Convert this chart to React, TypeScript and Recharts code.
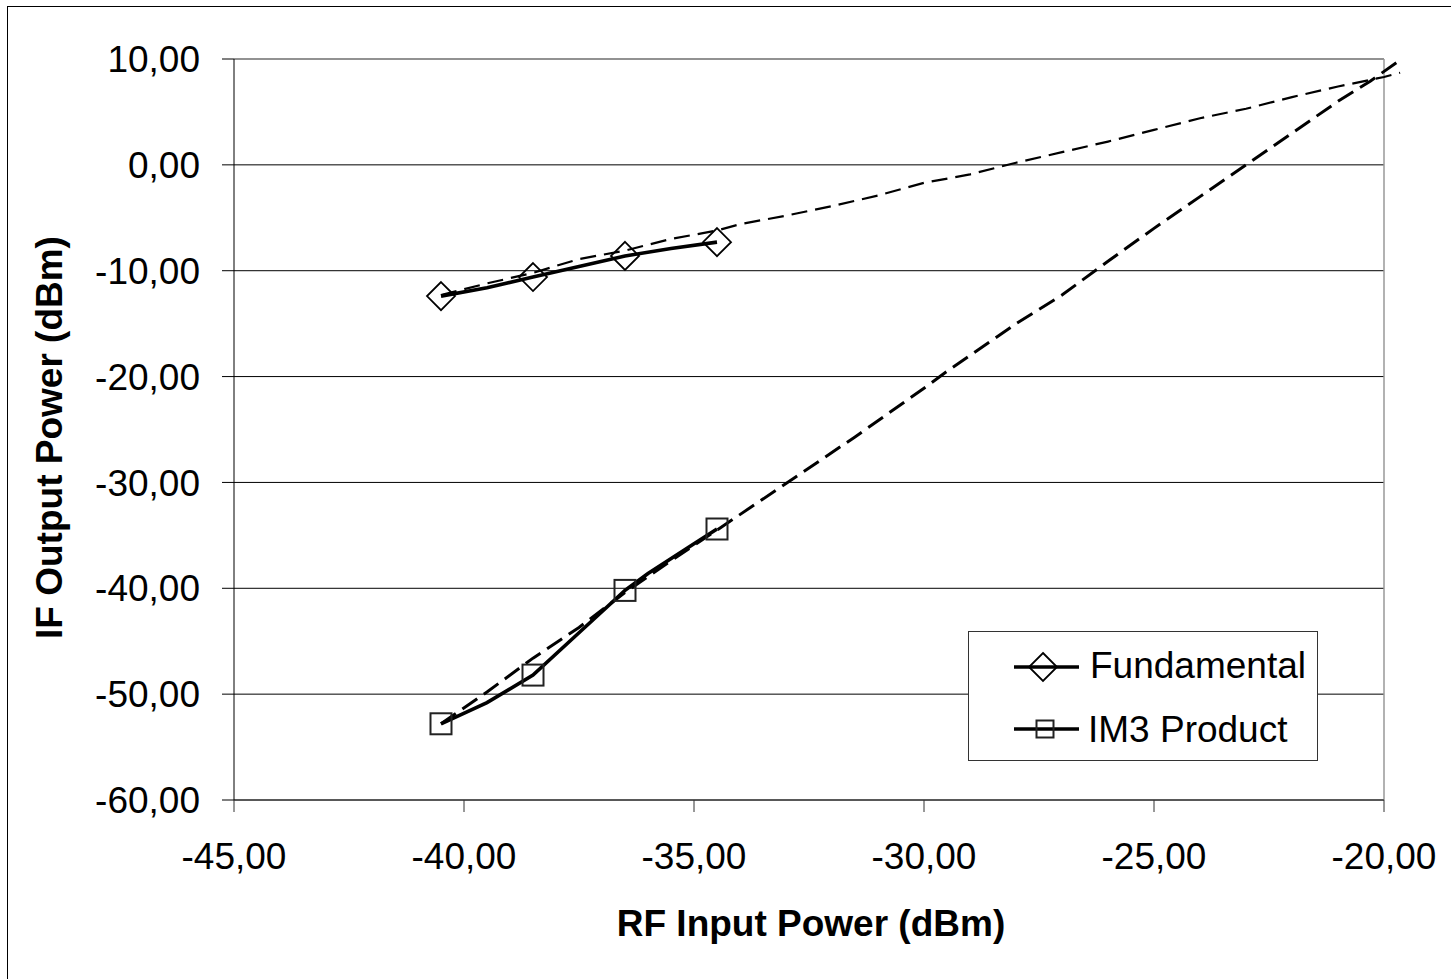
import React from 'react';
import { LineChart, Line, XAxis, YAxis, CartesianGrid, ReferenceLine, Legend } from 'recharts';

// axis ticks
const xTicks = [-45, -40, -35, -30, -25, -20];
const yTicks = [-60, -50, -40, -30, -20, -10, 0, 10];

// measured fundamental (solid)
const fundIn = [-40.5, -39.5, -38.5, -37.5, -36.5, -35.5, -34.5];
const fundOut = [-12.4, -11.6, -10.6, -9.6, -8.6, -7.9, -7.3];

// measured IM3 product (solid)
const im3In = [-40.5, -39.5, -38.5, -37.5, -36.5, -36, -35, -34.5];
const im3Out = [-52.8, -50.8, -48.2, -44.2, -40.2, -38.6, -35.8, -34.4];

// extrapolated fundamental (dashed)
const fundTrendIn = [-40.5, -39.5, -38.5, -37.5, -36.5, -35.5, -34.5, -34, -33, -32, -31, -30, -29, -28, -27, -26, -25, -24, -23, -22, -21, -20, -19.65];
const fundTrendOut = [-12.3, -11.2, -10.2, -8.9, -8.1, -7.0, -6.2, -5.6, -4.8, -3.9, -2.9, -1.7, -0.9, 0.2, 1.2, 2.2, 3.3, 4.4, 5.3, 6.4, 7.4, 8.3, 8.7];

// extrapolated IM3 (dashed)
const im3TrendIn = [-40.5, -39.5, -38.5, -37.5, -36.5, -35.5, -34.5, -33, -31.5, -30, -29.5, -28, -27, -26, -25, -24, -23, -22, -21, -20.3, -19.65];
const im3TrendOut = [-52.8, -49.8, -46.6, -43.7, -40.4, -37.4, -34.5, -30.1, -25.7, -21.1, -19.5, -15.0, -12.3, -9.1, -6.0, -3.0, 0.0, 3.0, 6.0, 7.9, 9.9];

// points that carry a marker
const markerIn = [-40.5, -38.5, -36.5, -34.5];

const FONT = '"Liberation Sans", Arial, sans-serif';

const toPoints = (xs: number[], ys: number[]) => xs.map((x, i) => ({ x, y: ys[i] }));
const fmt = (v: number) => v.toFixed(2).replace('.', ',');

const Diamond = ({ cx, cy, r = 14 }: { cx: number; cy: number; r?: number }) => (
  <path
    d={`M${cx},${cy - r} L${cx + r},${cy} L${cx},${cy + r} L${cx - r},${cy} Z`}
    fill="none"
    stroke="#000"
    strokeWidth={1.8}
  />
);

const Square = ({ cx, cy, s = 21 }: { cx: number; cy: number; s?: number }) => (
  <rect x={cx - s / 2} y={cy - s / 2} width={s} height={s} fill="none" stroke="#222" strokeWidth={2} />
);

const diamondDot = (props: any) => {
  const { cx, cy, payload, index } = props;
  if (!markerIn.includes(payload.x)) return <g key={`fd-${index}`} />;
  return (
    <g key={`fd-${index}`}>
      <Diamond cx={cx} cy={cy} />
    </g>
  );
};

const squareDot = (props: any) => {
  const { cx, cy, payload, index } = props;
  if (!markerIn.includes(payload.x)) return <g key={`sd-${index}`} />;
  return (
    <g key={`sd-${index}`}>
      <Square cx={cx} cy={cy} />
    </g>
  );
};

const XTitle = (props: any) => {
  const { viewBox } = props;
  return (
    <text
      x={viewBox.x + viewBox.width / 2 + 2}
      y={936}
      textAnchor="middle"
      fontFamily={FONT}
      fontSize={37}
      fontWeight="bold"
      fill="#000"
    >
      RF Input Power (dBm)
    </text>
  );
};

const YTitle = (props: any) => {
  const { viewBox } = props;
  const cx = viewBox.x + 49;
  const cy = viewBox.y + viewBox.height / 2 + 8;
  return (
    <text
      x={cx}
      y={cy}
      dy="0.355em"
      transform={`rotate(-90, ${cx}, ${cy})`}
      textAnchor="middle"
      fontFamily={FONT}
      fontSize={37}
      fontWeight="bold"
      fill="#000"
    >
      IF Output Power (dBm)
    </text>
  );
};

const LegendBox = () => (
  <div
    style={{
      width: 348,
      height: 128,
      border: '1px solid #333',
      background: '#fff',
      position: 'relative',
      fontFamily: FONT,
    }}
  >
    <svg width={348} height={128} style={{ position: 'absolute', left: 0, top: 0 }}>
      <line x1={45} x2={110} y1={35} y2={35} stroke="#000" strokeWidth={3.5} />
      <Diamond cx={74} cy={35} />
      <text x={121} y={46} fontSize={37} fill="#000" fontFamily={FONT}>
        Fundamental
      </text>
      <line x1={45} x2={110} y1={97} y2={97} stroke="#000" strokeWidth={3.5} />
      <Square cx={76} cy={97} s={17} />
      <text x={119} y={110} fontSize={37} fill="#000" fontFamily={FONT}>
        IM3 Product
      </text>
    </svg>
  </div>
);

export default function App() {
  return (
    <div
      style={{
        position: 'absolute',
        left: 0,
        top: 0,
        width: 1451,
        height: 979,
        overflow: 'hidden',
        background: '#fff',
      }}
    >
      <div
        style={{
          position: 'absolute',
          left: 7,
          top: 6,
          width: 1500,
          height: 1000,
          border: '1.5px solid #000',
        }}
      />
      <div style={{ position: 'absolute', left: 0, top: 0 }}>
        <LineChart width={1451} height={979} margin={{ top: 59, right: 67, bottom: 0, left: 0 }}>
          <CartesianGrid vertical={false} stroke="#000" strokeWidth={1} />
          <XAxis
            type="number"
            dataKey="x"
            domain={[-45, -20]}
            ticks={xTicks}
            tickFormatter={fmt}
            height={179}
            tickSize={12}
            tickMargin={31}
            stroke="#333"
            tick={{ fontSize: 37, fill: '#000', fontFamily: FONT }}
            label={<XTitle />}
          />
          <XAxis
            xAxisId="t"
            type="number"
            dataKey="x"
            domain={[-45, -19.65]}
            padding={{ left: 0, right: -16.1 }}
            hide
          />
          <YAxis
            type="number"
            domain={[-60, 10]}
            ticks={yTicks}
            tickFormatter={fmt}
            width={234}
            tickSize={12}
            tickMargin={22}
            stroke="#000"
            tick={{ fontSize: 37, fill: '#000', fontFamily: FONT }}
            label={<YTitle />}
          />
          <ReferenceLine y={10} stroke="#999" strokeWidth={1.5} />
          <ReferenceLine x={-20} stroke="#999" strokeWidth={1.5} />
          <Line
            xAxisId="t"
            data={toPoints(fundTrendIn, fundTrendOut)}
            dataKey="y"
            type="linear"
            stroke="#000"
            strokeWidth={2.2}
            strokeDasharray="16 8"
            dot={false}
            isAnimationActive={false}
          />
          <Line
            xAxisId="t"
            data={toPoints(im3TrendIn, im3TrendOut)}
            dataKey="y"
            type="linear"
            stroke="#000"
            strokeWidth={3}
            strokeDasharray="18 8"
            dot={false}
            isAnimationActive={false}
          />
          <Line
            data={toPoints(fundIn, fundOut)}
            dataKey="y"
            name="Fundamental"
            type="linear"
            stroke="#000"
            strokeWidth={3.6}
            dot={diamondDot}
            isAnimationActive={false}
          />
          <Line
            data={toPoints(im3In, im3Out)}
            dataKey="y"
            name="IM3 Product"
            type="linear"
            stroke="#000"
            strokeWidth={3.6}
            dot={squareDot}
            isAnimationActive={false}
          />
          <Legend
            layout="vertical"
            align="center"
            verticalAlign="middle"
            content={() => <LegendBox />}
            wrapperStyle={{ left: 968, top: 631, width: 350, height: 130 }}
          />
        </LineChart>
      </div>
    </div>
  );
}
